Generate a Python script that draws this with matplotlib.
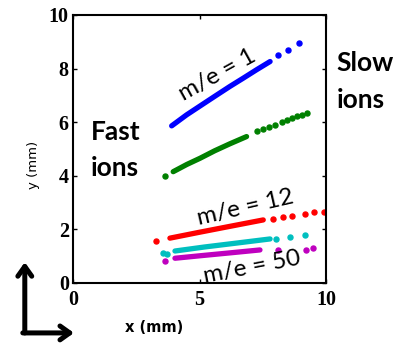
import matplotlib
matplotlib.use("Agg")
import matplotlib.pyplot as plt

# dense part of each trace (drawn as a thick line) and loose points past it
blue_x = [3.90, 4.49, 5.10, 5.68, 6.20, 6.73, 7.25, 7.79]
blue_y = [5.86, 6.27, 6.65, 7.01, 7.33, 7.64, 7.95, 8.26]
blue_dots_x = [8.11, 8.48, 8.94]
blue_dots_y = [8.51, 8.69, 8.94]

green_x = [3.96, 4.50, 5.02, 5.60, 6.20, 6.86]
green_y = [4.15, 4.42, 4.65, 4.93, 5.19, 5.46]
green_dots_x = [3.64, 7.26, 7.50, 7.75, 7.98, 8.25, 8.45, 8.64, 8.84, 9.05, 9.23]
green_dots_y = [3.99, 5.65, 5.73, 5.82, 5.90, 6.02, 6.08, 6.14, 6.21, 6.27, 6.33]

red_x = [3.83, 5.00, 6.20, 7.52]
red_y = [1.67, 1.89, 2.11, 2.35]
red_dots_x = [3.27, 7.92, 8.31, 8.64, 9.17, 9.53, 9.93]
red_dots_y = [1.58, 2.39, 2.45, 2.48, 2.57, 2.63, 2.66]

cyan_x = [4.03, 5.20, 6.50, 7.79]
cyan_y = [1.19, 1.34, 1.49, 1.64]
cyan_dots_x = [3.57, 3.70, 8.02, 8.58, 9.17]
cyan_dots_y = [1.11, 1.08, 1.64, 1.73, 1.79]

mag_x = [4.03, 5.10, 6.20, 7.39]
mag_y = [0.92, 1.02, 1.12, 1.23]
mag_dots_x = [3.64, 8.11, 9.21, 9.50]
mag_dots_y = [0.80, 1.23, 1.23, 1.29]

traces = [
    (blue_x, blue_y, blue_dots_x, blue_dots_y, (0, 0, 1)),
    (green_x, green_y, green_dots_x, green_dots_y, (0, 0.5, 0)),
    (red_x, red_y, red_dots_x, red_dots_y, (1, 0, 0)),
    (cyan_x, cyan_y, cyan_dots_x, cyan_dots_y, (0, 0.75, 0.75)),
    (mag_x, mag_y, mag_dots_x, mag_dots_y, (0.75, 0, 0.75)),
]

x_ticks = [0, 5, 10]
y_ticks = [0, 2, 4, 6, 8, 10]

fig = plt.figure(figsize=(4.0, 3.45), dpi=100)
ax = fig.add_axes([0.1825, 0.18, 0.6325, 0.7768])

for lx, ly, dx, dy, col in traces:
    ax.plot(lx, ly, color=col, lw=3.8, solid_capstyle="round")
    ax.plot(dx, dy, ls="none", marker="o", ms=3.6, color=col, mec=col)

ax.set_xlim(0, 10)
ax.set_ylim(0, 10)
ax.set_xticks(x_ticks)
ax.set_yticks(y_ticks)
tick_font = {"family": "Liberation Serif", "weight": "bold", "size": 14.5}
ax.set_xticklabels([str(t) for t in x_ticks], fontdict=tick_font)
ax.set_yticklabels([str(t) for t in y_ticks], fontdict=tick_font)
ax.tick_params(direction="in", length=3, width=1, top=True, right=True)
ax.tick_params(axis="x", pad=5)
ax.tick_params(axis="y", pad=3)
for s in ax.spines.values():
    s.set_linewidth(1.5)

# axis titles
fig.text(0.385, 0.052, "x (mm)", ha="center", va="center",
         family="DejaVu Sans", weight="bold", fontsize=10.5)
fig.text(0.083, 0.522, "y (mm)", ha="center", va="center", rotation=90,
         family="DejaVu Sans", fontsize=9.5)

# annotations
ann = {"family": "Lato", "weight": "bold", "fontsize": 19}
fig.text(0.228, 0.618, "Fast", **ann, ha="left", va="center")
fig.text(0.228, 0.512, "ions", **ann, ha="left", va="center")
fig.text(0.842, 0.817, "Slow", **ann, ha="left", va="center")
fig.text(0.842, 0.71, "ions", **ann, ha="left", va="center")

lab = {"family": "Lato", "fontsize": 17.5, "ha": "center", "va": "center"}
fig.text(0.543, 0.783, "m/e = 1", rotation=29, **lab)
fig.text(0.613, 0.397, "m/e = 12", rotation=13, **lab)
fig.text(0.63, 0.226, "m/e = 50", rotation=11, **lab)

# direction arrows at the lower left
arrow = dict(arrowstyle="->,head_length=0.7,head_width=0.5", lw=3.6, color="black",
             shrinkA=0, shrinkB=0)
ax.annotate("", xy=(0.062, 0.24), xytext=(0.062, 0.035), xycoords="figure fraction",
            textcoords="figure fraction", arrowprops=arrow, annotation_clip=False)
ax.annotate("", xy=(0.185, 0.035), xytext=(0.057, 0.035), xycoords="figure fraction",
            textcoords="figure fraction", arrowprops=arrow, annotation_clip=False)

fig.savefig("out.png", dpi=100)
